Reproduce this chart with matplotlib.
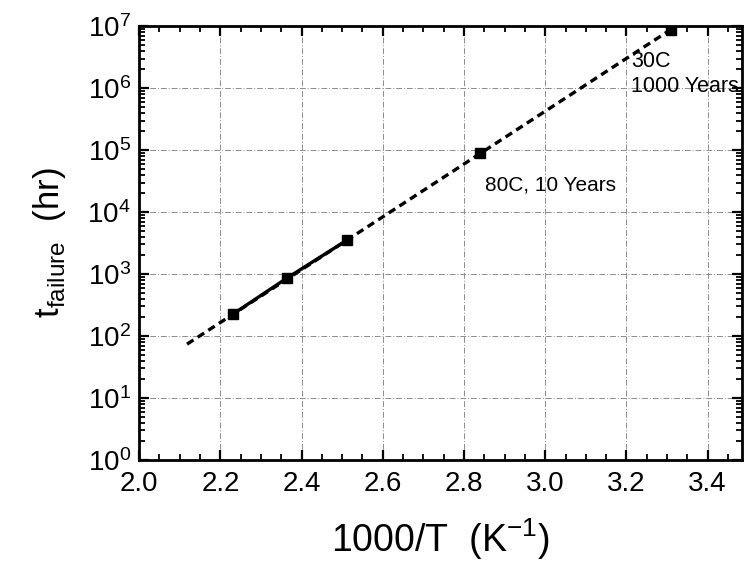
# Arrhenius plot of time to failure vs inverse temperature

import matplotlib.pyplot as plt
import numpy as np
from matplotlib.ticker import MultipleLocator, LogLocator, NullFormatter

plt.rcParams['font.family'] = ['Liberation Sans', 'DejaVu Sans']

# measured points (solid line through them)
meas_x = [2.231, 2.364, 2.512]
meas_y = [226, 861, 3530]

# extrapolated points
extra_x = [2.839, 3.309]
extra_y = [8.9e4, 8.8e6]
extra_labels = ["80C, 10 Years", "30C\n1000 Years"]

# extrapolation line endpoints
fit_x = [2.118, 3.309]
fit_y = [74, 8.8e6]

fig = plt.figure(figsize=(7.44, 5.69), dpi=100)
ax = fig.add_axes([0.187, 0.1916, 0.81, 0.7624])

ax.plot(fit_x, fit_y, color='black', lw=2.4, ls=(0, (2.3, 1.5)), zorder=3)
ax.plot(meas_x, meas_y, color='black', lw=2.4, marker='s', ms=7.5, zorder=4)
ax.plot(extra_x, extra_y, ls='none', color='black', marker='s', ms=7.5, zorder=4)

ax.text(extra_x[0] + 0.012, extra_y[0] / 2.3, extra_labels[0], fontsize=15,
        ha='left', va='top')
ax.text(3.212, 7.3e5, extra_labels[1], fontsize=15.5, ha='left', va='bottom',
        linespacing=1.2)

ax.set_yscale('log')
ax.set_xlim(2.0, 3.484)
ax.set_ylim(1, 1e7)

ax.xaxis.set_major_locator(MultipleLocator(0.2))
ax.xaxis.set_minor_locator(MultipleLocator(0.05))
ax.yaxis.set_major_locator(LogLocator(base=10, numticks=10))
ax.yaxis.set_minor_locator(LogLocator(base=10, subs=np.arange(2, 10), numticks=10))
ax.yaxis.set_minor_formatter(NullFormatter())

ax.tick_params(which='both', direction='in', top=True, right=True)
ax.tick_params(which='major', length=7, width=1.6, labelsize=20, pad=8)
ax.tick_params(which='minor', length=4, width=1.3)
ax.tick_params(axis='y', which='major', pad=6)

for s in ax.spines.values():
    s.set_linewidth(2.0)

ax.grid(True, which='major', color='0.55', lw=0.7, ls=(0, (6, 2, 1, 2)))

ax.set_xlabel("1000/T  (K$^{\\mathregular{-1}}$)", fontsize=27, labelpad=14)
ax.set_ylabel("t$_{\\mathregular{failure}}$  (hr)", fontsize=25, labelpad=14)

plt.savefig('out.png', dpi=100)
